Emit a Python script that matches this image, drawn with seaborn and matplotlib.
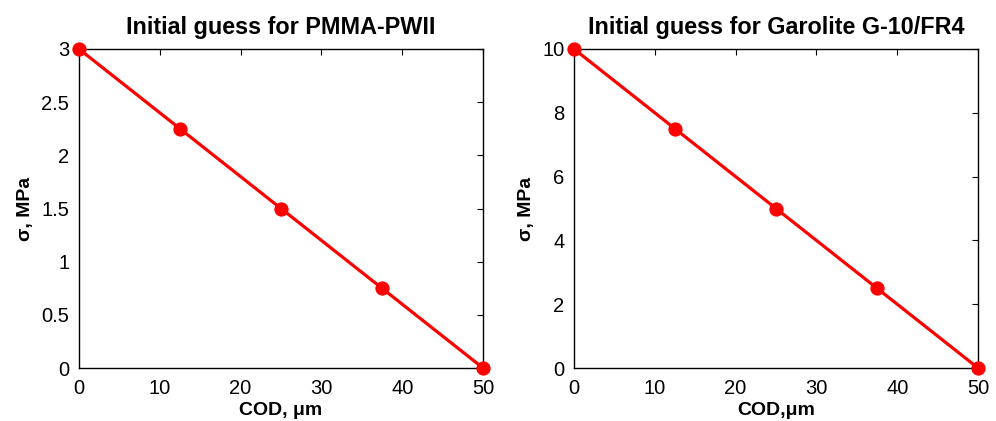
import matplotlib
matplotlib.use("Agg")
import matplotlib.pyplot as plt
import seaborn as sns
import pandas as pd

cod = [0, 12.5, 25, 37.5, 50]
sigma_pmma = [3, 2.25, 1.5, 0.75, 0]
sigma_g10 = [10, 7.5, 5, 2.5, 0]
titles = ["Initial guess for PMMA-PWII", "Initial guess for Garolite G-10/FR4"]
xlabels = ["COD, \u03bcm", "COD,\u03bcm"]
ylabel = "\u03c3, MPa"

sns.set_style("white")
plt.rcParams['font.family'] = ['Liberation Sans', 'DejaVu Sans']
plt.rcParams['text.color'] = 'black'
plt.rcParams['axes.labelcolor'] = 'black'

fig = plt.figure(figsize=(9.96, 4.21), dpi=100)
ax1 = fig.add_axes([79/996, 1-368/421, (483-79)/996, (368-49)/421])
ax2 = fig.add_axes([574/996, 1-368/421, (978-574)/996, (368-49)/421])

datasets = [(ax1, sigma_pmma, [0, 0.5, 1, 1.5, 2, 2.5, 3], 3, ["0", "0.5", "1", "1.5", "2", "2.5", "3"]),
            (ax2, sigma_g10, [0, 2, 4, 6, 8, 10], 10, ["0", "2", "4", "6", "8", "10"])]

for i, (ax, ys, yt, ymax, ytl) in enumerate(datasets):
    df = pd.DataFrame({"cod": cod, "sigma": ys})
    sns.lineplot(data=df, x="cod", y="sigma", ax=ax, color="#ff0000", linewidth=2.3,
                 marker="o", markersize=9.5, markeredgecolor="#ff0000", clip_on=False, zorder=5)
    ax.set_xlim(0, 50)
    ax.set_ylim(0, ymax)
    ax.set_xticks([0, 10, 20, 30, 40, 50])
    ax.set_yticks(yt)
    ax.set_yticklabels(ytl)
    ax.tick_params(direction="in", top=True, right=True, length=4, width=0.8,
                   labelsize=14.5, colors="black")
    ax.tick_params(axis="x", pad=8)
    ax.tick_params(axis="y", pad=7)
    for s in ax.spines.values():
        s.set_visible(True)
        s.set_color("black")
        s.set_linewidth(1.0)
    ax.set_title(titles[i], fontsize=16.8, fontweight="bold", pad=11, color="black")
    ax.set_xlabel(xlabels[i], fontsize=14, fontweight="bold", labelpad=3)
    ax.set_ylabel(ylabel, fontsize=14, fontweight="bold", labelpad=5)

fig.savefig("out.png", dpi=100)
